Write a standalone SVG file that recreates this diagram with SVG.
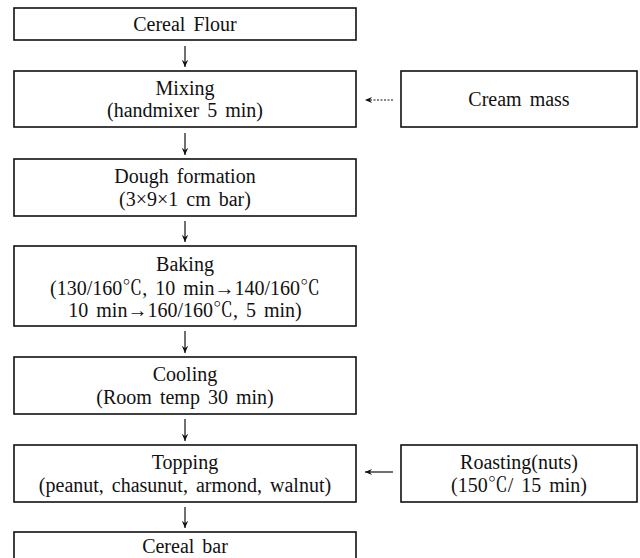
<svg xmlns="http://www.w3.org/2000/svg" width="640" height="558" viewBox="0 0 640 558">
<style>
.box{fill:#fff;stroke:#111;stroke-width:1.6}
.t{font-family:"Liberation Serif","Noto Serif CJK KR","Noto Sans CJK KR",serif;font-size:20px;fill:#111;text-anchor:middle;word-spacing:3px}
.c{stroke:#111;stroke-width:1.2;fill:none}
.d{stroke-dasharray:2 1.5}
</style>
<defs>
<marker id="ah" viewBox="0 0 10 10" refX="9" refY="5" markerWidth="8" markerHeight="8" orient="auto" markerUnits="userSpaceOnUse">
<path d="M0,1 L9,5 L0,9 L3,5 Z" fill="#111"/>
</marker>
</defs>
<rect width="640" height="558" fill="#fff"/>
<g id="connectors">
<line class="c" x1="185" y1="46" x2="185" y2="67" marker-end="url(#ah)"/>
<line class="c" x1="185" y1="133" x2="185" y2="155" marker-end="url(#ah)"/>
<line class="c" x1="185" y1="221" x2="185" y2="242" marker-end="url(#ah)"/>
<line class="c" x1="185" y1="331" x2="185" y2="353" marker-end="url(#ah)"/>
<line class="c" x1="185" y1="419" x2="185" y2="441" marker-end="url(#ah)"/>
<line class="c" x1="185" y1="507" x2="185" y2="528" marker-end="url(#ah)"/>
<line class="c d" x1="393" y1="100" x2="365" y2="100" marker-end="url(#ah)"/>
<line class="c" x1="393" y1="472" x2="365" y2="472" marker-end="url(#ah)"/>
</g>
<g id="cereal-flour">
<rect class="box" x="14" y="8" width="342" height="32"/>
<text class="t" x="185" y="31">Cereal Flour</text>
</g>
<g id="mixing">
<rect class="box" x="14" y="71" width="342" height="56"/>
<text class="t" x="185" y="95">Mixing</text>
<text class="t" x="185" y="117">(handmixer 5 min)</text>
</g>
<g id="cream-mass">
<rect class="box" x="401" y="71" width="236" height="56"/>
<text class="t" x="519" y="106">Cream mass</text>
</g>
<g id="dough">
<rect class="box" x="14" y="159" width="342" height="57"/>
<text class="t" x="185" y="183">Dough formation</text>
<text class="t" x="185" y="206">(3×9×1 cm bar)</text>
</g>
<g id="baking">
<rect class="box" x="14" y="246" width="342" height="80"/>
<text class="t" x="185" y="271">Baking</text>
<text class="t" x="185" y="295">(130/160℃, 10 min→140/160℃</text>
<text class="t" x="185" y="317">10 min→160/160℃, 5 min)</text>
</g>
<g id="cooling">
<rect class="box" x="14" y="357" width="342" height="57"/>
<text class="t" x="185" y="381">Cooling</text>
<text class="t" x="185" y="404">(Room temp 30 min)</text>
</g>
<g id="topping">
<rect class="box" x="14" y="445" width="342" height="57"/>
<text class="t" x="185" y="469">Topping</text>
<text class="t" x="185" y="492">(peanut, chasunut, armond, walnut)</text>
</g>
<g id="roasting">
<rect class="box" x="401" y="445" width="236" height="57"/>
<text class="t" x="519" y="469">Roasting(nuts)</text>
<text class="t" x="519" y="492">(150℃/ 15 min)</text>
</g>
<g id="cereal-bar">
<rect class="box" x="14" y="532" width="342" height="40"/>
<text class="t" x="185" y="553">Cereal bar</text>
</g>
</svg>
